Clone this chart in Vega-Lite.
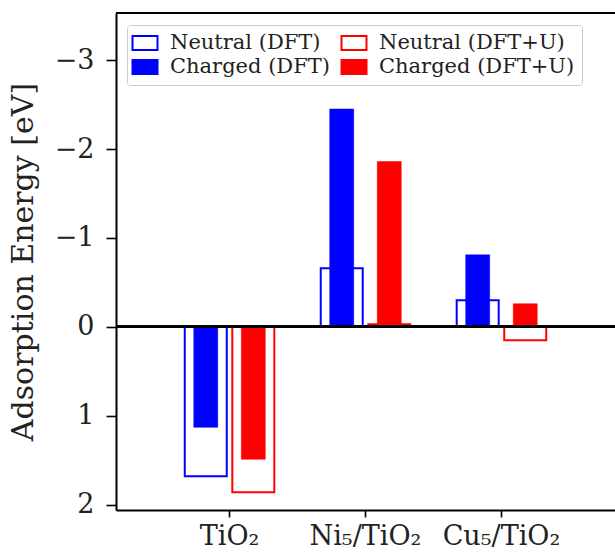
{
  "$schema": "https://vega.github.io/schema/vega-lite/v6.json",
  "width": 499,
  "height": 497,
  "autosize": "none",
  "padding": {"left": 116, "top": 13, "right": 0, "bottom": 45},
  "background": "white",
  "config": {
    "font": "DejaVu Serif",
    "view": {"stroke": "transparent", "strokeWidth": 0},
    "axis": {"domainColor": "black", "domainWidth": 2, "tickColor": "black", "tickWidth": 1.6, "labelColor": "#222", "titleColor": "#222", "grid": false, "labelFontSize": 27, "titleFontWeight": "normal"},
    "legend": {
      "orient": "none", "legendX": 11, "legendY": 12, "columns": 2, "direction": "horizontal",
      "title": null, "labelFontSize": 21, "labelColor": "#222", "labelOffset": 14, "labelLimit": 0,
      "symbolType": "M-1.25,-0.7L1.25,-0.7L1.25,0.7L-1.25,0.7Z", "symbolSize": 400, "symbolStrokeWidth": 2,
      "columnPadding": 7, "rowPadding": 2, "padding": 7,
      "strokeColor": "#cccccc", "fillColor": "rgba(255,255,255,0.85)", "cornerRadius": 3
    }
  },
  "data": {"values": [
    {"system": "TiO₂", "method": "DFT", "state": "Neutral", "series": "Neutral (DFT)", "value": 1.68},
    {"system": "TiO₂", "method": "DFT", "state": "Charged", "series": "Charged (DFT)", "value": 1.13},
    {"system": "TiO₂", "method": "DFT+U", "state": "Neutral", "series": "Neutral (DFT+U)", "value": 1.86},
    {"system": "TiO₂", "method": "DFT+U", "state": "Charged", "series": "Charged (DFT+U)", "value": 1.49},
    {"system": "Ni₅/TiO₂", "method": "DFT", "state": "Neutral", "series": "Neutral (DFT)", "value": -0.66},
    {"system": "Ni₅/TiO₂", "method": "DFT", "state": "Charged", "series": "Charged (DFT)", "value": -2.45},
    {"system": "Ni₅/TiO₂", "method": "DFT+U", "state": "Neutral", "series": "Neutral (DFT+U)", "value": -0.03},
    {"system": "Ni₅/TiO₂", "method": "DFT+U", "state": "Charged", "series": "Charged (DFT+U)", "value": -1.86},
    {"system": "Cu₅/TiO₂", "method": "DFT", "state": "Neutral", "series": "Neutral (DFT)", "value": -0.3},
    {"system": "Cu₅/TiO₂", "method": "DFT", "state": "Charged", "series": "Charged (DFT)", "value": -0.81},
    {"system": "Cu₅/TiO₂", "method": "DFT+U", "state": "Neutral", "series": "Neutral (DFT+U)", "value": 0.15},
    {"system": "Cu₅/TiO₂", "method": "DFT+U", "state": "Charged", "series": "Charged (DFT+U)", "value": -0.26}
  ]},
  "encoding": {
    "x": {"field": "system", "type": "nominal", "sort": ["TiO₂", "Ni₅/TiO₂", "Cu₅/TiO₂"],
      "scale": {"paddingInner": 0, "paddingOuter": 0.335},
      "axis": {"title": null, "labelAngle": 0, "tickSize": 7, "labelPadding": 6}},
    "xOffset": {"field": "method", "type": "nominal", "sort": ["DFT", "DFT+U"],
      "scale": {"paddingInner": 0, "paddingOuter": 0.43}},
    "y": {"field": "value", "type": "quantitative",
      "scale": {"domain": [-3.53, 2.06], "reverse": true, "nice": false, "zero": false},
      "axis": {"title": "Adsorption Energy [eV]", "values": [-3, -2, -1, 0, 1, 2], "tickSize": 10, "labelPadding": 12, "titleFontSize": 30, "titlePadding": 16, "labelExpr": "replace(datum.label, '-', '−')"}},
    "stroke": {"field": "series", "type": "nominal",
      "scale": {"domain": ["Neutral (DFT)", "Neutral (DFT+U)", "Charged (DFT)", "Charged (DFT+U)"], "range": ["#0000ff", "#ff0000", "#0000ff", "#ff0000"]}},
    "fill": {"field": "series", "type": "nominal",
      "scale": {"domain": ["Neutral (DFT)", "Neutral (DFT+U)", "Charged (DFT)", "Charged (DFT+U)"], "range": ["transparent", "transparent", "#0000ff", "#ff0000"]}}
  },
  "layer": [
    {"transform": [{"filter": "datum.state == 'Neutral'"}], "mark": {"type": "bar", "width": 42, "strokeWidth": 2}},
    {"transform": [{"filter": "datum.state == 'Charged'"}], "mark": {"type": "bar", "width": 24, "strokeWidth": 0.5}},
    {"mark": {"type": "rule", "color": "black", "strokeWidth": 2}, "encoding": {"y": {"datum": 0}, "x": null, "xOffset": null, "stroke": null, "fill": null}},
    {"mark": {"type": "rule", "color": "black", "strokeWidth": 2}, "encoding": {"y": {"datum": -3.53}, "x": null, "xOffset": null, "stroke": null, "fill": null}}
  ]
}
